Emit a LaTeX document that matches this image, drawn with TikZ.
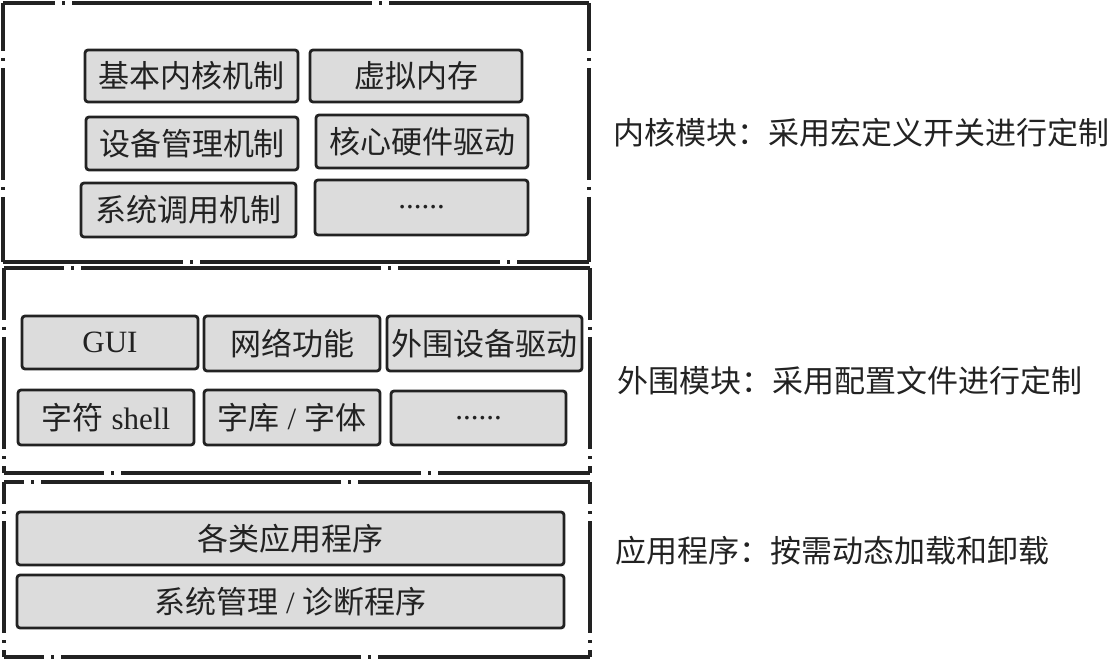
\documentclass[tikz,border=0pt]{standalone}
\usepackage{fontspec}
\setmainfont{Liberation Serif}
\newfontfamily\cjk{Noto Sans CJK SC}
\definecolor{boxfill}{HTML}{DCDCDC}
\definecolor{ink}{HTML}{222222}
\begin{document}
\begin{tikzpicture}[x=1pt,y=-1pt,
  inbox/.style={draw=ink, line width=2.8pt, fill=boxfill, rounded corners=3pt,
    inner sep=0pt, text=ink, font=\fontsize{31}{36}\selectfont},
  outh/.style={draw=ink, line width=3.2pt, dash pattern=on 300pt off 7pt on 3pt off 7pt},
  outv/.style={draw=ink, line width=3.2pt, dash pattern=on 112pt off 7pt on 3pt off 7pt},
  lbl/.style={anchor=west, inner sep=0pt, text=ink, font=\fontsize{31}{36}\selectfont\cjk}]
\useasboundingbox (0,0) rectangle (1112,660);
% outer containers
\coordinate (k1) at (3,3);   \coordinate (k2) at (589,262);
\coordinate (q1) at (4,268); \coordinate (q2) at (590,473);
\coordinate (r1) at (4,482); \coordinate (r2) at (590,657);
\draw[outh, dash phase=248pt] (k1) -- (k2|-k1);
\draw[outh, dash phase=120pt] (k1|-k2) -- (k2);
\draw[outv, dash phase=64pt] (k1) -- (k1|-k2);
\draw[outv, dash phase=64pt] (k2|-k1) -- (k2);
\draw[outh, dash phase=240pt] (q1) -- (q2|-q1);
\draw[outh, dash phase=200pt] (q1|-q2) -- (q2);
\draw[outv, dash phase=60pt] (q1) -- (q1|-q2);
\draw[outv, dash phase=60pt] (q2|-q1) -- (q2);
\draw[outh, dash phase=280pt] (r1) -- (r2|-r1);
\draw[outh, dash phase=260pt] (r1|-r2) -- (r2);
\draw[outv, dash phase=90pt] (r1) -- (r1|-r2);
\draw[outv, dash phase=90pt] (r2|-r1) -- (r2);
% kernel modules
\node[inbox, minimum width=213pt, minimum height=52pt] (b1) at (191.5,76) {\cjk 基本内核机制};
\node[inbox, minimum width=212pt, minimum height=52pt] (b2) at (416,76) {\cjk 虚拟内存};
\node[inbox, minimum width=212pt, minimum height=53pt] (b3) at (192,143.5) {\cjk 设备管理机制};
\node[inbox, minimum width=212pt, minimum height=53pt] (b4) at (422,141.5) {\cjk 核心硬件驱动};
\node[inbox, minimum width=215pt, minimum height=54pt] (b5) at (188.5,210) {\cjk 系统调用机制};
\node[inbox, minimum width=213pt, minimum height=55pt] (b6) at (421.5,207.5) {......};
% peripheral modules
\node[inbox, minimum width=176pt, minimum height=53pt] (p1) at (110,342.5) {GUI};
\node[inbox, minimum width=176pt, minimum height=55pt] (p2) at (292,343.5) {\cjk 网络功能};
\node[inbox, minimum width=195pt, minimum height=55pt] (p3) at (484.5,343.5) {\cjk 外围设备驱动};
\node[inbox, minimum width=176pt, minimum height=55pt] (p4) at (106,417.5) {{\cjk 字符} shell};
\node[inbox, minimum width=176pt, minimum height=55pt] (p5) at (292,417.5) {{\cjk 字库} / {\cjk 字体}};
\node[inbox, minimum width=175pt, minimum height=54pt] (p6) at (478.5,418) {......};
% applications
\node[inbox, minimum width=547pt, minimum height=53pt] (a1) at (290.5,538.5) {\cjk 各类应用程序};
\node[inbox, minimum width=547pt, minimum height=53pt] (a2) at (290.5,601.5) {{\cjk 系统管理} / {\cjk 诊断程序}};
% labels
\node[lbl] (l1) at (613,133) {内核模块：采用宏定义开关进行定制};
\node[lbl] (l2) at (617,381) {外围模块：采用配置文件进行定制};
\node[lbl] (l3) at (615,551) {应用程序：按需动态加载和卸载};
\end{tikzpicture}
\end{document}
